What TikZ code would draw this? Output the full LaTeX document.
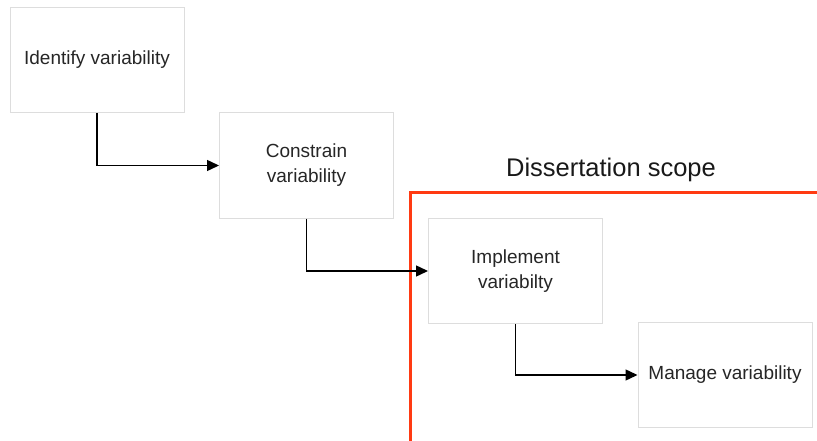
\documentclass[tikz,border=0pt]{standalone}
\usepackage{fontspec}
\setmainfont{Liberation Sans}
\usetikzlibrary{arrows.meta}
\definecolor{boxgray}{HTML}{DDDDDD}
\definecolor{scopered}{HTML}{FF3A12}
\tikzset{
  stepbox/.style={draw=boxgray, line width=1pt, fill=white, minimum width=174pt, minimum height=105pt, align=center, font=\fontsize{19}{25}\selectfont, text=black!85},
  flow/.style={line width=1.4pt, -{Triangle[length=12pt,width=11pt]}},
  scope/.style={draw=scopered, line width=3pt}
}
\begin{document}
\begin{tikzpicture}[x=1pt,y=-1pt]
\useasboundingbox (0,0) rectangle (817,441);
\node[stepbox] (b1) at (97,60) {Identify variability};
\node[stepbox] (b2) at (306.5,165.5) {Constrain\\variability};
\node[stepbox] (b3) at (515.5,271) {Implement\\variabilty};
\node[stepbox] (b4) at (725,375) {Manage variability};
\coordinate (sbot) at (410,443);
\coordinate (scorner) at (410,193);
\coordinate (sright) at (819,193);
\draw[scope] (sbot) -- (scorner) -- (sright);
\node[font=\fontsize{25.5}{30}\selectfont, text=black!90] (title) at (611,170) {Dissertation scope};
\draw[flow] (b1.south) |- (b2.west);
\draw[flow] (b2.south) |- (b3.west);
\draw[flow] (b3.south) |- (b4.west);
\end{tikzpicture}
\end{document}
